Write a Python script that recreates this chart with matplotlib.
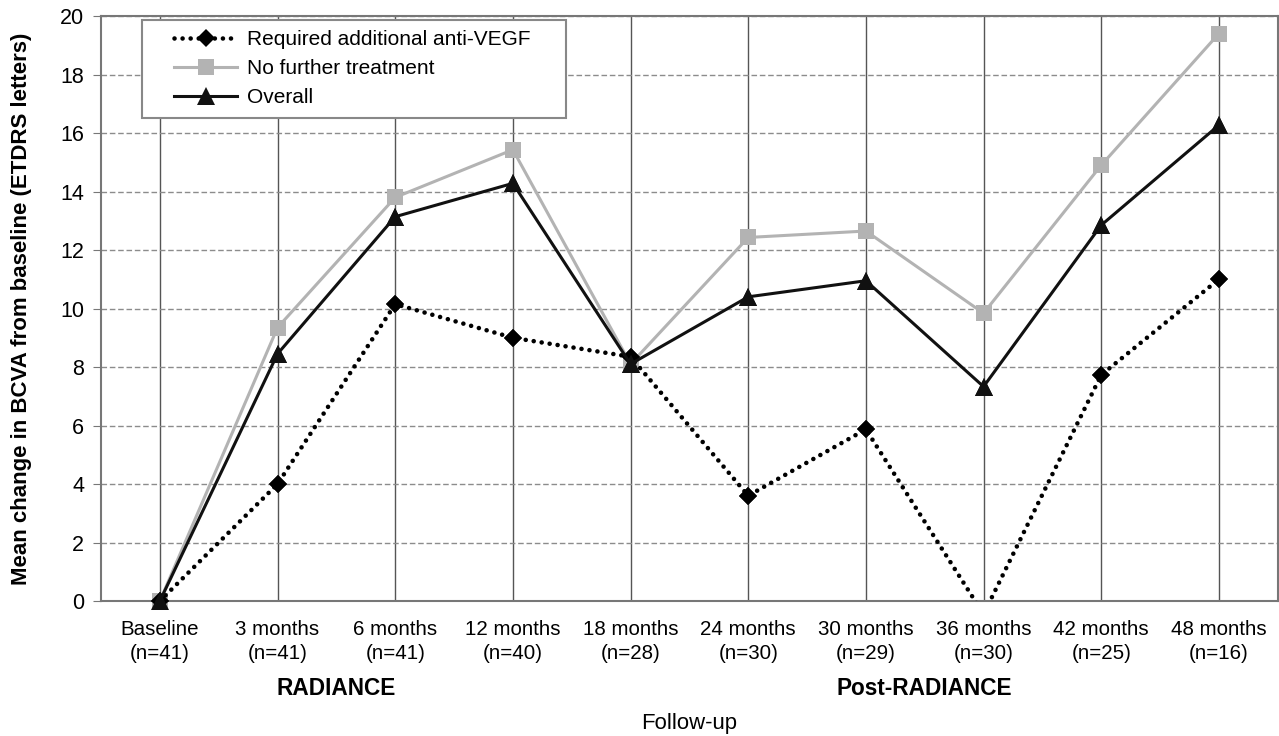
import numpy as np
import matplotlib
matplotlib.use("Agg")
import matplotlib.pyplot as plt
from matplotlib.legend_handler import HandlerLine2D

plt.rcParams['font.family'] = ['Liberation Sans', 'DejaVu Sans']

# data
visits = ["Baseline", "3 months", "6 months", "12 months", "18 months",
          "24 months", "30 months", "36 months", "42 months", "48 months"]
n_pat = [41, 41, 41, 40, 28, 30, 29, 30, 25, 16]
required_antivegf = [0, 4.0, 10.15, 9.0, 8.35, 3.6, 5.87, -0.45, 7.73, 11.0]
no_further = [0, 9.35, 13.8, 15.43, 8.1, 12.43, 12.65, 9.84, 14.9, 19.4]
overall = [0, 8.45, 13.14, 14.28, 8.1, 10.4, 10.95, 7.33, 12.85, 16.27]

x = np.arange(len(visits))
tick_labels = [f"{v}\n(n={n})" for v, n in zip(visits, n_pat)]

fig = plt.figure(figsize=(12.79, 7.36), dpi=100)
ax = fig.add_axes([0.079, 0.1834, 0.92, 0.7948])

series = [
    ("Required additional anti-VEGF", required_antivegf,
     dict(color="black", marker="D", ms=9.5, lw=3.3, ls=(0, (0.01, 1.75)),
          dash_capstyle="round")),
    ("No further treatment", no_further,
     dict(color="#b3b3b3", marker="s", ms=11, lw=2.2, ls="-")),
    ("Overall", overall,
     dict(color="#111111", marker="^", ms=13.5, lw=2.2, ls="-")),
]
zorders = {"Required additional anti-VEGF": 4, "No further treatment": 3, "Overall": 5}

handles = []
for name, vals, st in series:
    vals = np.array(vals)
    ok = [i for i, v in enumerate(vals) if v >= 0]
    h, = ax.plot(x, vals, markevery=ok, label=name, zorder=zorders[name],
                 markeredgewidth=0, **st)
    # markers sitting on the axis edge are drawn whole, like the original
    ax.plot(x[ok], vals[ok], ls="none", marker=st["marker"], ms=st["ms"],
            color=st["color"], markeredgewidth=0, clip_on=False,
            zorder=zorders[name])
    handles.append(h)

ax.set_xlim(-0.5, 9.5)
ax.set_ylim(0, 20)
ax.set_yticks(np.arange(0, 21, 2))
ax.set_xticks(x)
ax.set_xticklabels(tick_labels, fontsize=14.8, linespacing=1.27)
ax.tick_params(axis="x", length=0, pad=14)
ax.tick_params(axis="y", labelsize=15.5, length=6, color="#777777", pad=6)

ax.yaxis.grid(True, ls=(0, (4, 2)), color="#8c8c8c", lw=1)
ax.xaxis.grid(True, ls="-", color="#555555", lw=1)
ax.set_axisbelow(True)
for sp in ax.spines.values():
    sp.set_color("#777777")
    sp.set_linewidth(1.5)

ax.set_ylabel("Mean change in BCVA from baseline (ETDRS letters)",
              fontsize=16, fontweight="bold", labelpad=20)

trans = ax.get_xaxis_transform()
ax.text(1.5, -0.149, "RADIANCE", transform=trans, ha="center", va="center",
        fontsize=16.3, fontweight="bold")
ax.text(6.5, -0.149, "Post-RADIANCE", transform=trans, ha="center", va="center",
        fontsize=16.3, fontweight="bold")
ax.text(4.5, -0.21, "Follow-up", transform=trans, ha="center", va="center",
        fontsize=15.9)

hmap = {h: HandlerLine2D(xpad=1.05) for h in handles}
leg = ax.legend(handles=handles, loc="upper left",
                bbox_to_anchor=(0.0348, 0.5, 0.360, 0.4932), mode="expand",
                fontsize=15, fancybox=False, framealpha=1, edgecolor="#888888",
                handlelength=4.08, handletextpad=0.45, borderpad=0.5,
                labelspacing=0.48, borderaxespad=0, handler_map=hmap)
leg.get_frame().set_linewidth(1.5)

fig.savefig("out.png", dpi=100)
